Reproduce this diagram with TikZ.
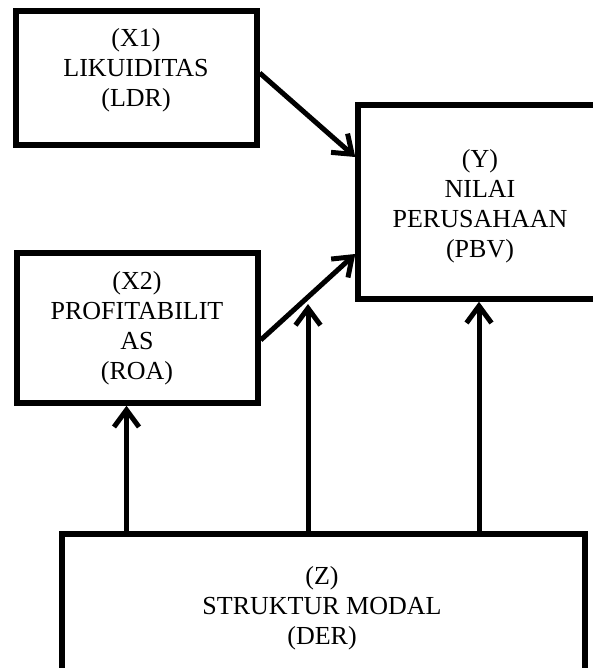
\documentclass[tikz,border=0pt]{standalone}
\usepackage{fontspec}
\setmainfont{Liberation Serif}
\usetikzlibrary{arrows.meta}
\begin{document}
\begin{tikzpicture}[x=1pt,y=-1pt,
  box/.style={draw,line width=5.5pt,rectangle,inner sep=0pt},
  lbl/.style={align=center,inner sep=0pt,font=\fontsize{26}{30}\selectfont},
  arr/.style={line width=5pt,-{Straight Barb[length=17pt,width=25pt]}}]
\useasboundingbox (0,0) rectangle (593,668);
% boxes
\node[box,minimum width=241pt,minimum height=134pt] (x1) at (136.5,78) {};
\node[lbl] (x1t) at (136,70) {(X1)\\LIKUIDITAS\\(LDR)};
\node[box,minimum width=241pt,minimum height=150pt] (x2) at (137.5,328) {};
\node[lbl] (x2t) at (137,328) {(X2)\\PROFITABILIT\\AS\\(ROA)};
\node[box,minimum width=252pt,minimum height=194pt] (y) at (484,202) {};
\node[lbl] (yt) at (480,206) {(Y)\\NILAI\\PERUSAHAAN\\(PBV)};
\node[box,minimum width=523pt,minimum height=166pt] (z) at (323.5,617) {};
\node[lbl] (zt) at (322,608) {(Z)\\STRUKTUR MODAL\\(DER)};
% helper coordinates
\coordinate (x1o) at ([yshift=5pt]x1.east);
\coordinate (yi1) at ([yshift=45pt]y.west);
\coordinate (x2o) at ([yshift=-12pt]x2.east);
\coordinate (yi2) at ([yshift=-52pt]y.west);
\path (x2o) -- (yi2) coordinate[pos=0.5] (m);
\coordinate (x2i) at ([xshift=-11pt]x2.south);
\coordinate (yi3) at ([xshift=-5pt]y.south);
% connectors
\draw[arr] (x1o) -- (yi1);
\draw[arr] (x2o) -- (yi2);
\draw[arr] (z.north -| x2i) -- (x2i);
\draw[arr,shorten >=7pt] (z.north -| m) -- (m);
\draw[arr] (z.north -| yi3) -- (yi3);
\end{tikzpicture}
\end{document}
